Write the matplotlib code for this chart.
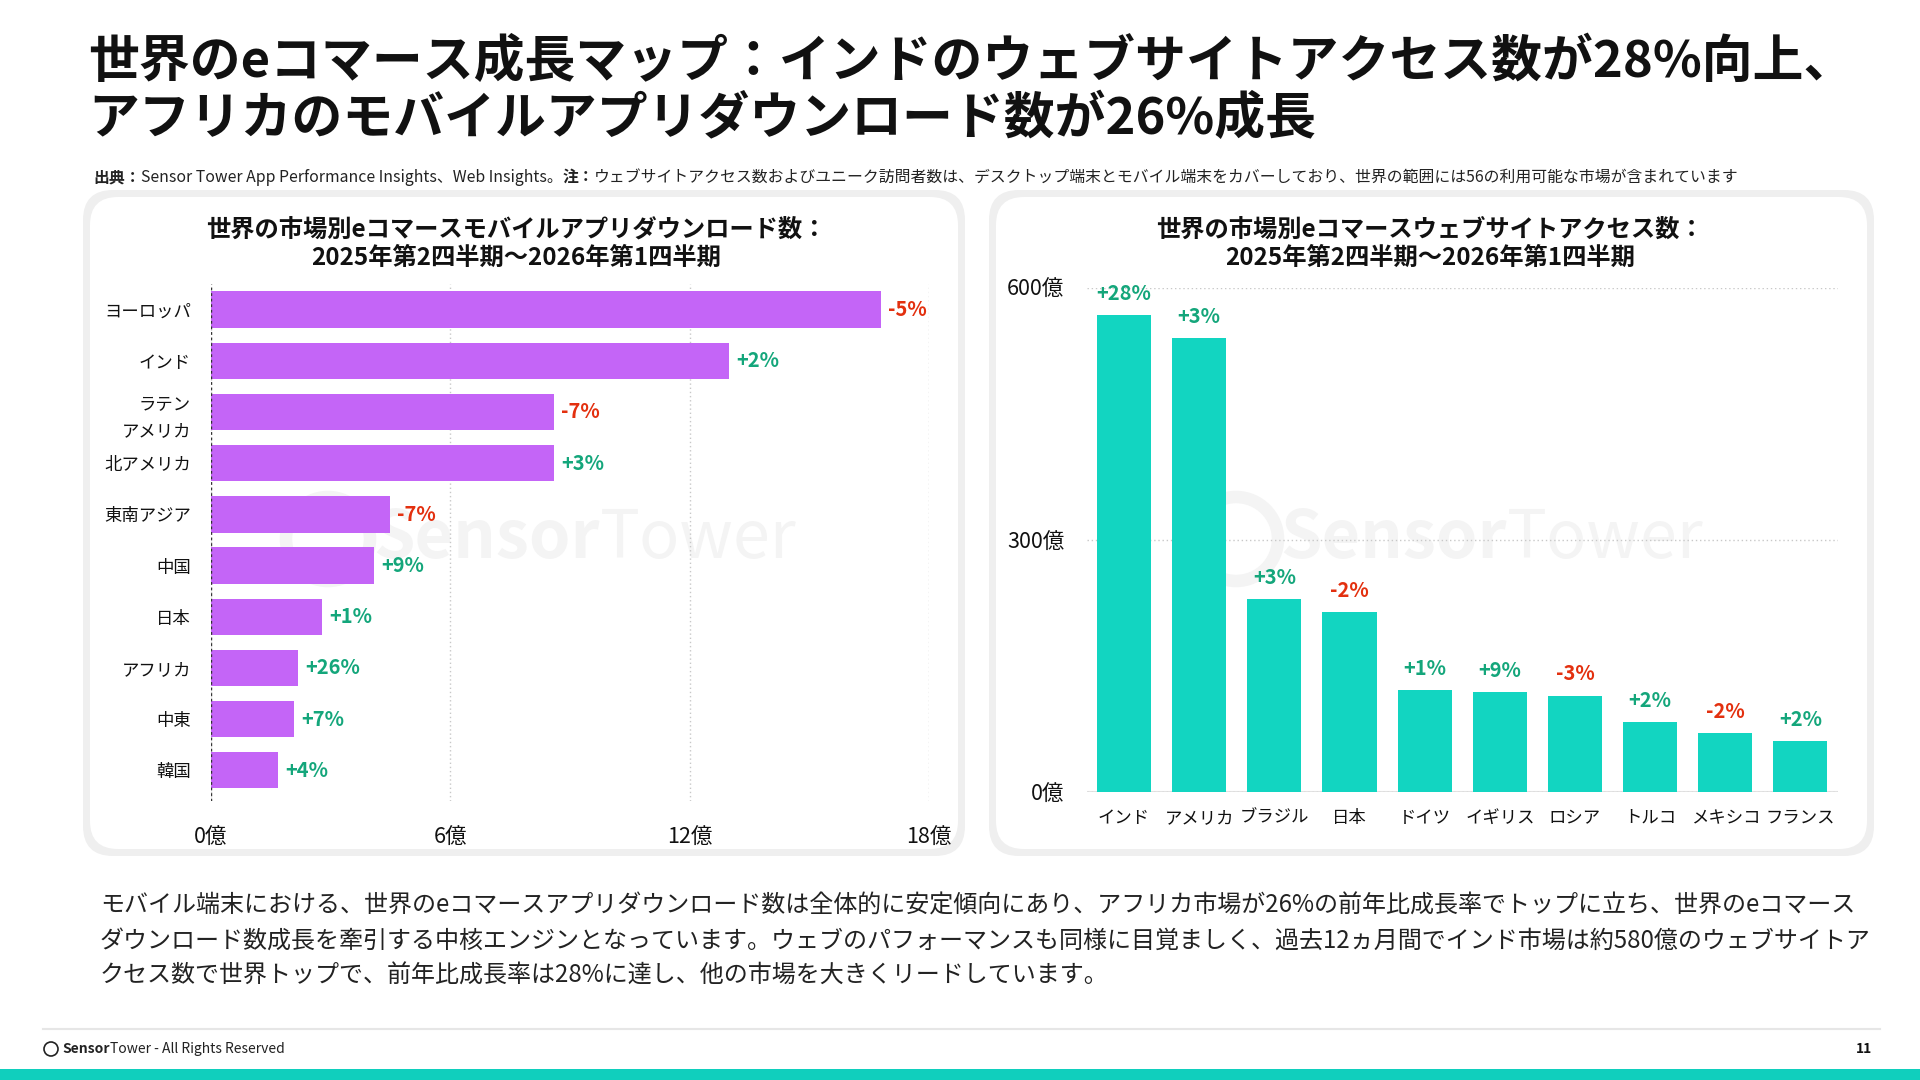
import matplotlib
matplotlib.use("Agg")
import matplotlib.pyplot as plt
from matplotlib.patches import FancyBboxPatch, Circle, Rectangle
from matplotlib.lines import Line2D

plt.rcParams['font.family'] = ['Noto Sans CJK JP', 'DejaVu Sans']

# data - left: app downloads (億), right: website visits (億)
left_markets = ['ヨーロッパ', 'インド', 'ラテン\nアメリカ', '北アメリカ', '東南アジア',
                '中国', '日本', 'アフリカ', '中東', '韓国']
left_downloads = [16.8, 13.0, 8.6, 8.6, 4.5, 4.1, 2.8, 2.2, 2.1, 1.7]
left_growth = ['-5%', '+2%', '-7%', '+3%', '-7%', '+9%', '+1%', '+26%', '+7%', '+4%']
left_ticks = [0, 6, 12, 18]
left_ticklabels = ['0億', '6億', '12億', '18億']

right_markets = ['インド', 'アメリカ', 'ブラジル', '日本', 'ドイツ',
                 'イギリス', 'ロシア', 'トルコ', 'メキシコ', 'フランス']
right_visits = [568, 540, 230, 214, 122, 119, 115, 83, 70, 61]
right_growth = ['+28%', '+3%', '+3%', '-2%', '+1%', '+9%', '-3%', '+2%', '-2%', '+2%']
right_ticks = [0, 300, 600]
right_ticklabels = ['0億', '300億', '600億']

PURPLE = '#c465f7'
TEAL = '#12d5c1'
GREEN = '#14a67b'
RED = '#e3300f'
DARK = '#111111'

W, H = 1920, 1080
fig = plt.figure(figsize=(W / 100, H / 100), dpi=100)
fig.patch.set_facecolor('white')
r = fig.canvas.get_renderer()


def fx(px):
    return px / W


def fy(py):
    return 1 - py / H


def chain(x, y, parts, size, color=DARK, zorder=3):
    # put text pieces one after the other on a line
    for s, weight in parts:
        t = fig.text(fx(x), fy(y), s, fontsize=size, fontweight=weight,
                     color=color, va='center', ha='left', zorder=zorder)
        x += t.get_window_extent(renderer=r).width


def gcol(s):
    return RED if s.startswith('-') else GREEN


# title
fig.text(fx(88), fy(62), '世界のeコマース成長マップ：インドのウェブサイトアクセス数が28%向上、',
         fontsize=36.6, fontweight='bold', color=DARK, va='center')
fig.text(fx(88), fy(119), 'アフリカのモバイルアプリダウンロード数が26%成長',
         fontsize=36.6, fontweight='bold', color=DARK, va='center')

# source line
chain(93, 177, [('出典：', 'bold'),
                ('Sensor Tower App Performance Insights、Web Insights。', 'normal'),
                ('注：', 'bold'),
                ('ウェブサイトアクセス数およびユニーク訪問者数は、デスクトップ端末とモバイル端末をカバーしており、世界の範囲には56の利用可能な市場が含まれています', 'normal')],
      11.4, color='#222222')

# panels
for x0, x1 in [(86, 962), (992, 1871)]:
    y0, y1 = 193, 853
    shadow = FancyBboxPatch(((x0 - 3) / 100, (H - y1 - 3) / 100), (x1 - x0 + 6) / 100, (y1 - y0 + 6) / 100,
                            boxstyle='round,pad=0,rounding_size=0.3', transform=fig.dpi_scale_trans,
                            facecolor='#efefef', edgecolor='none', zorder=-3)
    box = FancyBboxPatch(((x0 + 4) / 100, (H - y1 + 4) / 100), (x1 - x0 - 8) / 100, (y1 - y0 - 8) / 100,
                         boxstyle='round,pad=0,rounding_size=0.28', transform=fig.dpi_scale_trans,
                         facecolor='white', edgecolor='none', zorder=-2)
    fig.add_artist(shadow)
    fig.add_artist(box)

# watermarks
for cx, tx in [(328, 373), (1236, 1280)]:
    fig.add_artist(Circle((cx / 100, (H - 539) / 100), 0.42, transform=fig.dpi_scale_trans,
                          facecolor='none', edgecolor='#f4f4f4', lw=9, zorder=-1))
    chain(tx, 539, [('Sensor', 'bold'), ('Tower', 'normal')], 48, color='#f4f4f4', zorder=-1)

# panel titles
fig.text(fx(516), fy(230), '世界の市場別eコマースモバイルアプリダウンロード数：', fontsize=17.5,
         fontweight='bold', color=DARK, ha='center', va='center')
fig.text(fx(516), fy(258), '2025年第2四半期～2026年第1四半期', fontsize=17.5,
         fontweight='bold', color=DARK, ha='center', va='center')
fig.text(fx(1430), fy(230), '世界の市場別eコマースウェブサイトアクセス数：', fontsize=17.5,
         fontweight='bold', color=DARK, ha='center', va='center')
fig.text(fx(1430), fy(258), '2025年第2四半期～2026年第1四半期', fontsize=17.5,
         fontweight='bold', color=DARK, ha='center', va='center')

# left chart
ax1 = fig.add_axes([fx(210.6), fy(801), (929 - 210.6) / W, (801 - 284) / H])
ax1.set_facecolor('none')
ypos = list(range(len(left_markets)))
ax1.barh(ypos, left_downloads, height=0.71, color=PURPLE, zorder=2)
ax1.set_ylim(9.6, -0.5)
ax1.set_xlim(0, 18)
ax1.set_xticks(left_ticks)
ax1.set_xticklabels(left_ticklabels, fontsize=15.5, color=DARK)
ax1.set_yticks(ypos)
ax1.set_yticklabels(left_markets, fontsize=12.5, color=DARK, linespacing=1.6)
ax1.tick_params(axis='x', length=0, pad=19)
ax1.tick_params(axis='y', length=0, pad=14)
for sp in ax1.spines.values():
    sp.set_visible(False)
ax1.xaxis.grid(True, color='#c8c8c8', linestyle=(0, (1, 2)), lw=1, zorder=0)
ax1.axvline(0, color='#333333', linestyle=(0, (2, 2)), lw=1, zorder=3)
for i, (v, g) in enumerate(zip(left_downloads, left_growth)):
    ax1.annotate(g, (v, i), xytext=(5, 0), textcoords='offset points', ha='left', va='center',
                 fontsize=14.5, fontweight='bold', color=gcol(g))

# right chart
ax2 = fig.add_axes([fx(1086.5), fy(792.2), (1838 - 1086.5) / W, (792.2 - 287.8) / H])
ax2.set_facecolor('none')
xpos = list(range(len(right_markets)))
ax2.bar(xpos, right_visits, width=0.72, color=TEAL, zorder=2)
ax2.set_xlim(-0.5, 9.5)
ax2.set_ylim(0, 600)
ax2.set_xticks(xpos)
ax2.set_xticklabels(right_markets, fontsize=12.5, color=DARK)
ax2.set_yticks(right_ticks)
ax2.set_yticklabels(right_ticklabels, fontsize=15.5, color=DARK)
ax2.tick_params(axis='x', length=0, pad=12)
ax2.tick_params(axis='y', length=0, pad=16)
for sp in ax2.spines.values():
    sp.set_visible(False)
ax2.yaxis.grid(True, color='#c8c8c8', linestyle=(0, (1, 2)), lw=1, zorder=0)
ax2.axhline(0, color='#e2e2e2', lw=1.5, zorder=1)
for i, (v, g) in enumerate(zip(right_visits, right_growth)):
    ax2.annotate(g, (i, v), xytext=(0, 8), textcoords='offset points', ha='center', va='bottom',
                 fontsize=14.5, fontweight='bold', color=gcol(g), annotation_clip=False)

# body text
body = ['モバイル端末における、世界のeコマースアプリダウンロード数は全体的に安定傾向にあり、アフリカ市場が26%の前年比成長率でトップに立ち、世界のeコマース',
        'ダウンロード数成長を牽引する中核エンジンとなっています。ウェブのパフォーマンスも同様に目覚ましく、過去12ヵ月間でインド市場は約580億のウェブサイトア',
        'クセス数で世界トップで、前年比成長率は28%に達し、他の市場を大きくリードしています。']
for k, line in enumerate(body):
    fig.text(fx(100), fy(906 + 35 * k), line, fontsize=17.3, color='#222222', va='center')

# footer
fig.add_artist(Line2D([fx(43), fx(1880)], [fy(1029), fy(1029)], color='#e6e6e6', lw=1.5))
fig.add_artist(Circle((0.51, (H - 1049) / 100), 0.07, transform=fig.dpi_scale_trans,
                      facecolor='none', edgecolor='#222222', lw=1.2))
chain(62, 1049, [('Sensor', 'bold'), ('Tower - All Rights Reserved', 'normal')], 10, color='#222222')
fig.text(fx(1872), fy(1049), '11', fontsize=10, fontweight='bold', color=DARK, ha='right', va='center')
fig.add_artist(Rectangle((0, 0), 1, 11 / H, transform=fig.transFigure, facecolor='#10cfbd',
                         edgecolor='none'))

fig.savefig('out.png', dpi=100)
